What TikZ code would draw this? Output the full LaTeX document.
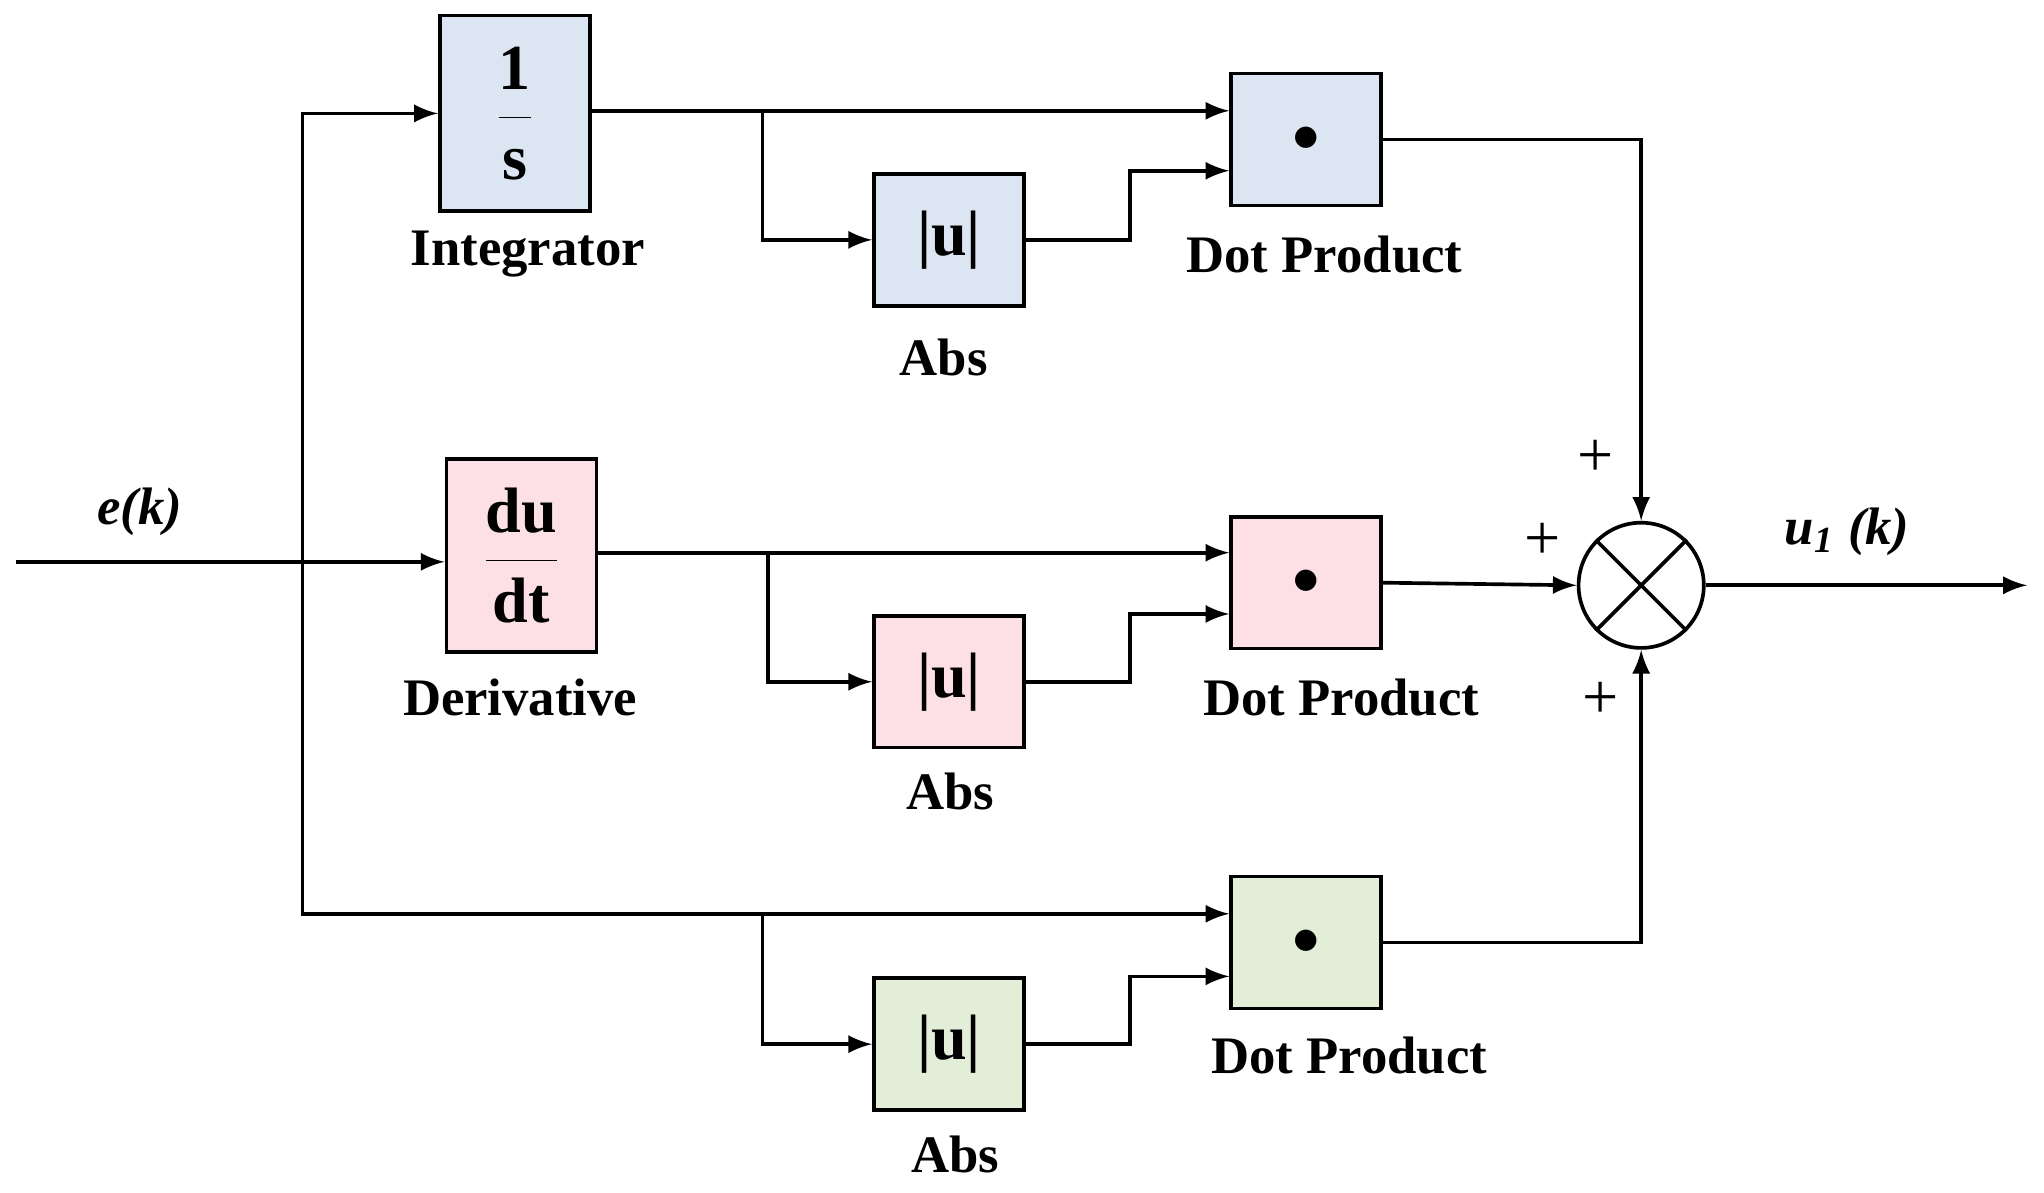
\documentclass[tikz,border=0pt]{standalone}
\usepackage{fontspec}
\setmainfont{Liberation Serif}
\usetikzlibrary{calc,shapes.geometric}
\definecolor{blk1}{HTML}{DCE6F2}
\definecolor{blk2}{HTML}{FDE0E6}
\definecolor{blk3}{HTML}{E3EED9}
\begin{document}
\begin{tikzpicture}[x=0.01cm, y=-0.01cm, >=latex, thick,
  font=\fontsize{11.5}{13}\selectfont\bfseries]
\tikzset{blk/.style={draw, minimum width=1.15cm, minimum height=1.01cm, inner sep=0pt},
  lbl/.style={inner sep=0pt}}
\useasboundingbox (0,0) rectangle (1568,915);

   % blocks
   \node[blk, fill=blk1, minimum height=1.5cm] (int) at (395,87) {\fontsize{14}{16}\selectfont$\displaystyle\frac{\mathbf{1}}{\mathbf{s}}$};
   \node[blk, fill=blk1] (abs1) at (728,184) {\fontsize{14}{16}\selectfont|u|};
   \node[blk, fill=blk1] (dot1) at (1002,107) {$\bullet$};
   \node[blk, fill=blk2, minimum height=1.48cm] (der) at (400,426) {\fontsize{14}{16}\selectfont$\displaystyle\frac{\mathbf{du}}{\mathbf{dt}}$};
   \node[blk, fill=blk2] (abs2) at (728,523) {\fontsize{14}{16}\selectfont|u|};
   \node[blk, fill=blk2] (dot2) at (1002,447) {$\bullet$};
   \node[blk, fill=blk3] (abs3) at (728,801) {\fontsize{14}{16}\selectfont|u|};
   \node[blk, fill=blk3] (dot3) at (1002,723) {$\bullet$};
   \node[draw, circle, minimum size=0.96cm, inner sep=0pt] (sum) at (1259,449) {};
   \draw (sum.north west) -- (sum.south east) (sum.north east) -- (sum.south west);

   % labels
   \node[lbl] (l1) at (405,195) {Integrator};
   \node[lbl] (l2) at (724,274) {Abs};
   \node[lbl] (l3) at (1016,195) {Dot Product};
   \node[lbl] (l4) at (399,535) {Derivative};
   \node[lbl] (l5) at (729,607) {Abs};
   \node[lbl] (l6) at (1029,535) {Dot Product};
   \node[lbl] (l7) at (733,886) {Abs};
   \node[lbl] (l8) at (1035,810) {Dot Product};
   \node[lbl] (ek) at (107,393) {\itshape e(k)};
   \node[lbl] (uk) at (1417,408) {\itshape u\textsubscript{1} (k)};
   \node[lbl, font=\normalfont\fontsize{14}{16}\selectfont] (p1) at (1224,352) {+};
   \node[lbl, font=\normalfont\fontsize{14}{16}\selectfont] (p2) at (1183,415) {+};
   \node[lbl, font=\normalfont\fontsize{14}{16}\selectfont] (p3) at (1228,537) {+};

   % input and branches
   \coordinate (in) at (12,431);
   \coordinate (br) at (232,431);
   \coordinate (b1) at (585,85);
   \coordinate (b2) at (589,424);
   \coordinate (b3) at (585,701);
   \draw[->] (in) -- (der.west |- in);
   \draw[->] (br) |- (int.west);
   \draw[->] (br) |- (dot3.west |- b3);
   \draw[->] (b3) |- (abs3.west);

   % top row
   \draw[->] (int.east |- b1) -- (dot1.west |- b1);
   \draw[->] (b1) |- (abs1.west);
   \draw[->] (abs1.east) -- ++(80,0) |- ($(dot1.west)+(0,24)$);
   \draw[->] (dot1.east) -| (sum.north);

   % middle row
   \draw[->] (der.east |- b2) -- (dot2.west |- b2);
   \draw[->] (b2) |- (abs2.west);
   \draw[->] (abs2.east) -- ++(80,0) |- ($(dot2.west)+(0,24)$);
   \draw[->] (dot2.east) -- (sum.west);

   % bottom row
   \draw[->] (abs3.east) -- ++(80,0) |- ($(dot3.west)+(0,26)$);
   \draw[->] (dot3.east) -| (sum.south);

   % output
   \coordinate (out) at (1555,449);
   \draw[->] (sum.east) -- (out);
\end{tikzpicture}
\end{document}
